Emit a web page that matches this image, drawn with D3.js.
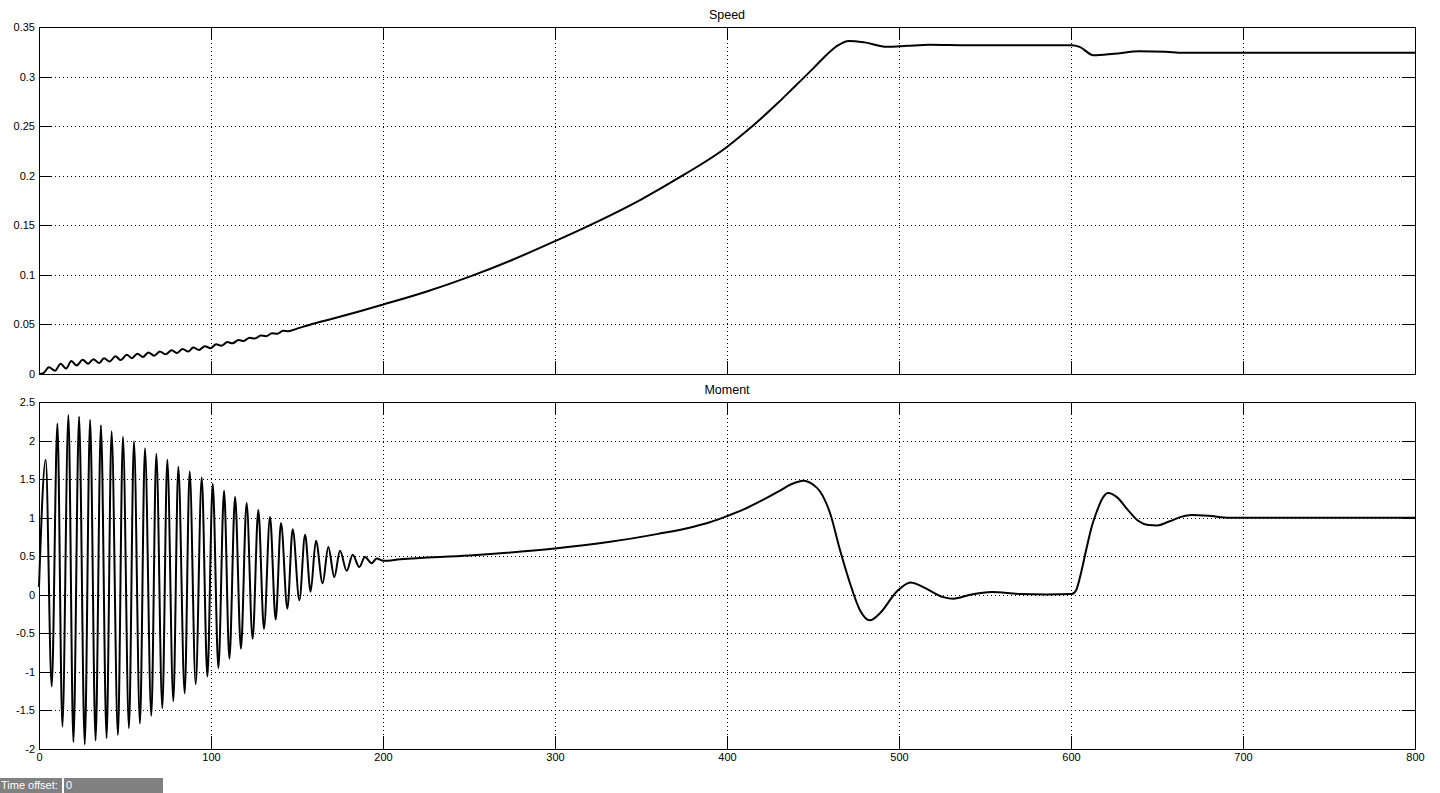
<!DOCTYPE html>
<html>
<head>
<meta charset="utf-8">
<script src="https://cdn.jsdelivr.net/npm/d3@7"></script>
<style>
  body { margin: 0; background: #fff; }
  svg { display: block; font-family: "Liberation Sans", Arial, sans-serif; }
</style>
</head>
<body>
<div id="root"></div>
<script>
// x axis ticks (time)
var xTicks = [0, 100, 200, 300, 400, 500, 600, 700, 800];

// Speed panel
var speedTicks = [0, 0.05, 0.1, 0.15, 0.2, 0.25, 0.3, 0.35];
var speedTickLabels = ["0", "0.05", "0.1", "0.15", "0.2", "0.25", "0.3", "0.35"];
var speedT = [0, 2.5, 5.8, 9.3, 12.6, 15.7, 18.8, 21.9, 25.4, 28.6, 31.6, 35, 37.8, 41, 44.4, 47.6,
  51, 54, 57.2, 60.4, 63.6, 67, 70.3, 73.7, 77.1, 80.3, 83.5, 86.7, 89.7, 93, 96.5, 99.7,
  103, 106, 109.5, 112.5, 116, 119, 122.5, 125.5, 129, 132, 135.5, 138.5, 142, 145,
  150, 160, 170, 185, 200, 225, 250, 275, 300, 325, 350, 375, 400, 410, 420, 430, 440, 450, 458, 464, 471,
  480, 493, 505, 518, 540, 600, 605, 613, 625, 640, 655, 665, 700, 800];
var speedV = [0, 0.0008, 0.0068, 0.0034, 0.0103, 0.0055, 0.0130, 0.0086, 0.0144, 0.0103, 0.0150, 0.0110,
  0.0160, 0.0125, 0.0178, 0.0140, 0.0195, 0.0160, 0.0205, 0.0172, 0.0216, 0.0185, 0.0226, 0.0198,
  0.0240, 0.0212, 0.0253, 0.0226, 0.0267, 0.0242, 0.0281, 0.0260,
  0.0300, 0.0285, 0.0322, 0.0309, 0.0344, 0.0333, 0.0366, 0.0357, 0.0389, 0.0381, 0.0412, 0.0406, 0.0436, 0.0432,
  0.0458, 0.051, 0.0555, 0.0625, 0.070, 0.083, 0.098, 0.115, 0.134, 0.154, 0.176, 0.201, 0.229, 0.243,
  0.258, 0.274, 0.291, 0.308, 0.322, 0.331, 0.336, 0.3345, 0.330, 0.331, 0.332, 0.3315, 0.3315, 0.330,
  0.3215, 0.323, 0.3255, 0.325, 0.324, 0.324, 0.324];

// Moment panel
var momentTicks = [-2, -1.5, -1, -0.5, 0, 0.5, 1, 1.5, 2, 2.5];
var momentTickLabels = ["-2", "-1.5", "-1", "-0.5", "0", "0.5", "1", "1.5", "2", "2.5"];
var momentT = [0, 3.9, 7.4, 10.7, 13.6, 17.1, 20.0, 23.3, 26.6, 29.7, 32.9, 36.0, 39.3, 42.2, 45.9,
  48.8, 52.3, 55.2, 58.7, 61.6, 65.3, 68.2, 71.7, 74.6, 78.1, 81.0, 84.7, 87.6, 91.1, 94.6, 97.9,
  101.0, 104.3, 107.6, 110.7, 114.0, 117.4, 120.7, 124.2, 127.5, 130.8, 134.3, 137.6, 140.7, 144.4,
  147.5, 151.4, 154.7, 157.9, 161.0, 164.9, 168.2, 171.7, 175.0, 178.9, 182.4, 186.2, 189.5, 193.4,
  196.3, 200.2, 210, 250, 300, 330, 360, 380, 390, 400, 410, 420, 430, 437, 444.4, 450, 454.1, 459.9,
  465.7, 471.5, 477.3, 483.1, 488.9, 498.6, 506.8, 514.1, 525.8, 531.6, 541.3, 553.9, 570.3, 585.8,
  600.4, 603, 606, 609, 612, 615, 618, 621.5, 627, 633, 639, 645, 650, 657, 664, 670, 680, 692, 800];
var momentV = [0.1, 1.75, -1.19, 2.22, -1.71, 2.33, -1.91, 2.31, -1.94, 2.27, -1.89, 2.20, -1.86, 2.12, -1.82,
  2.05, -1.73, 1.99, -1.67, 1.90, -1.57, 1.83, -1.47, 1.75, -1.38, 1.66, -1.28, 1.60, -1.16, 1.52, -1.06,
  1.44, -0.95, 1.35, -0.83, 1.27, -0.70, 1.19, -0.57, 1.10, -0.44, 1.01, -0.32, 0.93, -0.18,
  0.85, -0.07, 0.78, 0.04, 0.70, 0.15, 0.62, 0.23, 0.57, 0.31, 0.52, 0.36, 0.49, 0.41,
  0.47, 0.44, 0.46, 0.51, 0.60, 0.68, 0.79, 0.88, 0.94, 1.02, 1.11, 1.22, 1.34, 1.43, 1.48, 1.43, 1.34, 1.06,
  0.58, 0.15, -0.20, -0.33, -0.24, 0.04, 0.16, 0.10, -0.03, -0.05, 0.0, 0.035, 0.01, 0.005,
  0.01, 0.06, 0.30, 0.60, 0.88, 1.08, 1.24, 1.32, 1.26, 1.10, 0.96, 0.905, 0.90, 0.95, 1.01, 1.035, 1.025, 1.0, 1.0];

var svgW = 1440, svgH = 793;
var left = 39, width = 1376;
var panelH = 347;
var tickLen = 13;

var svg = d3.select("#root")
    .append("svg")
    .attr("width", svgW)
    .attr("height", svgH);

var x = d3.scaleLinear().domain([0, 800]).range([0, width]);

function panel(top, title, yDomain, yTicks, yLabels, tArr, vArr, showX)
{
    var y = d3.scaleLinear().domain(yDomain).range([panelH, 0]);
    var g = svg.append("g").attr("transform", "translate(" + left + "," + top + ")");

    // dotted grid
    g.append("g").selectAll("line")
        .data(xTicks.slice(1, -1))
        .join("line")
        .attr("x1", d => Math.round(x(d)) + 0.5)
        .attr("x2", d => Math.round(x(d)) + 0.5)
        .attr("y1", 0).attr("y2", panelH)
        .attr("stroke", "#000").attr("stroke-dasharray", "1,3")
        .attr("shape-rendering", "crispEdges");
    g.append("g").selectAll("line")
        .data(yTicks.slice(1, -1))
        .join("line")
        .attr("y1", d => Math.round(y(d)) + 0.5)
        .attr("y2", d => Math.round(y(d)) + 0.5)
        .attr("x1", 0).attr("x2", width)
        .attr("stroke", "#000").attr("stroke-dasharray", "1,3")
        .attr("shape-rendering", "crispEdges");

    // axes with inward ticks on all four sides
    var yi = {};
    yTicks.forEach((d, i) => yi[d] = yLabels[i]);
    var ax = [
        g.append("g").call(d3.axisLeft(y).tickValues(yTicks).tickSize(-tickLen).tickPadding(4)
            .tickFormat(d => yi[d])),
        g.append("g").attr("transform", "translate(" + width + ",0)")
            .call(d3.axisRight(y).tickValues(yTicks).tickSize(-tickLen).tickFormat("")),
        g.append("g").call(d3.axisTop(x).tickValues(xTicks).tickSize(-tickLen).tickFormat("")),
        g.append("g").attr("transform", "translate(0," + panelH + ")")
            .call(d3.axisBottom(x).tickValues(xTicks).tickSize(-tickLen).tickPadding(4)
                .tickFormat(showX ? d3.format("d") : ""))
    ];
    ax.forEach(a =>
    {
        a.select(".domain").remove();
        a.selectAll("line").attr("stroke", "#000").attr("shape-rendering", "crispEdges");
        a.selectAll("text").attr("fill", "#000").style("font-size", "11px")
            .style("font-family", "'Liberation Sans', Arial, sans-serif");
    });

    // frame
    g.append("rect")
        .attr("x", 0.5).attr("y", 0.5)
        .attr("width", width).attr("height", panelH)
        .attr("fill", "none").attr("stroke", "#000")
        .attr("shape-rendering", "crispEdges");

    // title
    svg.append("text")
        .attr("x", left + width / 2)
        .attr("y", top - 8)
        .attr("text-anchor", "middle")
        .style("font-size", "12.5px")
        .text(title);

    // the signal
    var pts = tArr.map((t, i) => [t, vArr[i]]);
    g.append("path")
        .datum(pts)
        .attr("fill", "none")
        .attr("stroke", "#000")
        .attr("stroke-width", 2)
        .attr("stroke-linejoin", "round")
        .attr("d", d3.line()
            .x(d => x(d[0]))
            .y(d => y(d[1]))
            .curve(d3.curveMonotoneX));
}

panel(27, "Speed", [0, 0.35], speedTicks, speedTickLabels, speedT, speedV, false);
panel(402, "Moment", [-2, 2.5], momentTicks, momentTickLabels, momentT, momentV, true);

// time offset strip at the bottom
var strip = svg.append("g").attr("transform", "translate(0,778)");
strip.append("rect").attr("x", 0).attr("y", 0).attr("width", 62).attr("height", 15).attr("fill", "#808080");
strip.append("rect").attr("x", 64).attr("y", 0).attr("width", 99).attr("height", 15).attr("fill", "#808080");
strip.append("text").attr("x", 1).attr("y", 11).attr("fill", "#fff").style("font-size", "11px").text("Time offset:");
strip.append("text").attr("x", 66).attr("y", 11).attr("fill", "#fff").style("font-size", "11px").text("0");
</script>
</body>
</html>
